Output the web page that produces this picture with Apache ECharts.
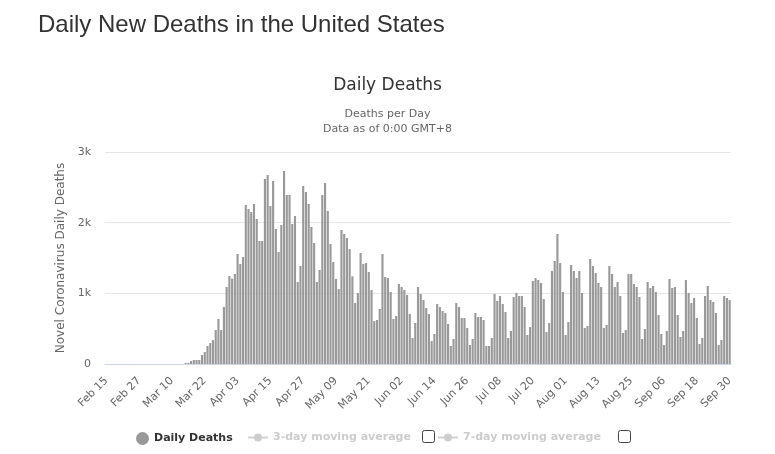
<!DOCTYPE html>
<html>
<head>
<meta charset="utf-8">
<script src="https://cdn.jsdelivr.net/npm/echarts@6/dist/echarts.min.js"></script>
<style>
  html, body { margin: 0; padding: 0; background: #fff; }
  #main { width: 775px; height: 454px; }
</style>
</head>
<body>
<div id="main"></div>
<script>
// first day on the axis and how many days are shown
const startDate = '2020-02-15';
const dayCount = 229;
const monthNames = ['Jan', 'Feb', 'Mar', 'Apr', 'May', 'Jun', 'Jul', 'Aug', 'Sep', 'Oct', 'Nov', 'Dec'];

// daily deaths, Feb 15 .. Sep 30 (the first weeks are too small to see)
const febDeaths = [0, 0, 0, 0, 0, 0, 0, 0, 0, 0, 0, 0, 0, 0, 0];
const marDeaths = [0, 0, 0, 0, 0, 0, 0, 0, 0, 0, 0, 0, 0, 0, 15, 15, 42, 57, 57, 57, 127, 170, 255, 297, 340, 481, 637, 481, 807, 1090, 1245];
const aprDeaths = [1208, 1274, 1557, 1415, 1514, 2250, 2193, 2151, 2264, 2052, 1741, 1741, 2618, 2675, 2236, 2590, 1910, 1585, 1967, 2731, 2392, 2392, 1981, 2094, 1160, 1387, 2519, 2434, 2264, 1939];
const mayDeaths = [1712, 1160, 1330, 2392, 2561, 2165, 1698, 1443, 1203, 1061, 1896, 1840, 1783, 1627, 1241, 863, 1005, 1571, 1415, 1429, 1302, 1047, 608, 623, 778, 1557, 1231, 1217, 1019, 637, 679];
const junDeaths = [1132, 1090, 1047, 976, 708, 368, 580, 1090, 991, 906, 792, 708, 325, 425, 849, 807, 750, 722, 566, 255, 354, 863, 807, 651, 651, 509, 269, 354, 722, 665];
const julDeaths = [665, 623, 255, 255, 368, 991, 892, 962, 849, 736, 368, 467, 948, 1005, 962, 962, 807, 410, 524, 1175, 1217, 1189, 1146, 920, 453, 580, 1316, 1458, 1840, 1429, 1019];
const augDeaths = [410, 594, 1401, 1316, 1217, 1316, 1005, 509, 538, 1486, 1387, 1288, 1146, 1090, 509, 552, 1387, 1274, 1090, 1160, 962, 439, 481, 1274, 1274, 1132, 1090, 948, 354, 495, 1160];
const sepDeaths = [1075, 1104, 1019, 693, 425, 269, 467, 1203, 1075, 1090, 693, 382, 467, 1189, 1005, 863, 934, 651, 283, 368, 962, 1104, 906, 877, 722, 269, 340, 962, 934, 906];

const dailyDeaths = [].concat(febDeaths, marDeaths, aprDeaths, mayDeaths, junDeaths, julDeaths, augDeaths, sepDeaths);

const yTicks = [0, 1000, 2000, 3000];
const yTickLabels = ['0', '1k', '2k', '3k'];

// build "Feb 15" style labels for each day
const categories = [];
const d0 = new Date(startDate + 'T00:00:00Z');
for (let i = 0; i < dayCount; i++) {
  const d = new Date(d0.getTime() + i * 86400000);
  const day = d.getUTCDate();
  categories.push(monthNames[d.getUTCMonth()] + ' ' + (day < 10 ? '0' + day : day));
}

const chart = echarts.init(document.getElementById('main'));

const chartFont = 'DejaVu Sans';

chart.setOption({
  backgroundColor: '#fff',
  animation: false,
  title: [
    {
      text: 'Daily New Deaths in the United States',
      left: 33, top: 8,
      textStyle: { fontFamily: 'Liberation Sans', fontSize: 24, fontWeight: 'normal', color: '#333' }
    },
    {
      text: 'Daily Deaths',
      left: 'center', top: 72,
      textStyle: { fontFamily: chartFont, fontSize: 17, fontWeight: 'normal', color: '#333' }
    },
    {
      text: 'Deaths per Day',
      left: 'center', top: 104,
      textStyle: { fontFamily: chartFont, fontSize: 11, fontWeight: 'normal', color: '#666' }
    },
    {
      text: 'Data as of 0:00 GMT+8',
      left: 'center', top: 119,
      textStyle: { fontFamily: chartFont, fontSize: 11, fontWeight: 'normal', color: '#666' }
    }
  ],
  legend: [
    {
      data: ['Daily Deaths'],
      left: 131, top: 427,
      icon: 'circle', itemWidth: 13, itemHeight: 13,
      textStyle: { fontFamily: chartFont, fontSize: 11, fontWeight: 'bold', color: '#333' }
    },
    {
      data: ['3-day moving average'],
      left: 242, top: 427,
      itemWidth: 20, itemHeight: 10, itemGap: 4, inactiveColor: '#ccc',
      textStyle: { fontFamily: chartFont, fontSize: 11, fontWeight: 'bold', color: '#333' }
    },
    {
      data: ['7-day moving average'],
      left: 432, top: 427,
      itemWidth: 20, itemHeight: 10, inactiveColor: '#ccc',
      textStyle: { fontFamily: chartFont, fontSize: 11, fontWeight: 'bold', color: '#333' }
    }
  ],
  grid: { left: 105, right: 44, top: 152, bottom: 90 },
  xAxis: {
    type: 'category',
    data: categories,
    axisLine: { lineStyle: { color: '#ccd6eb' } },
    axisTick: { show: false },
    axisLabel: {
      interval: 11, rotate: 45, margin: 15,
      fontFamily: chartFont, fontSize: 11, color: '#666'
    }
  },
  yAxis: {
    type: 'value',
    min: 0, max: 3000, interval: 1000,
    name: 'Novel Coronavirus Daily Deaths',
    nameLocation: 'middle', nameGap: 38,
    nameTextStyle: { fontFamily: chartFont, fontSize: 12, color: '#666' },
    axisLabel: {
      margin: 14, fontFamily: chartFont, fontSize: 11, color: '#666',
      formatter: v => yTickLabels[yTicks.indexOf(v)]
    },
    splitLine: { lineStyle: { color: '#e6e6e6' } }
  },
  series: [
    {
      name: 'Daily Deaths',
      type: 'bar',
      data: dailyDeaths,
      barCategoryGap: '22%',
      itemStyle: { color: '#999' }
    },
    { name: '3-day moving average', type: 'line', symbol: 'circle', data: [], itemStyle: { color: '#ccc' } },
    { name: '7-day moving average', type: 'line', symbol: 'circle', data: [], itemStyle: { color: '#ccc' } }
  ],
  graphic: [
    { type: 'rect', left: 422, top: 430, shape: { width: 12, height: 12, r: 2 }, style: { fill: '#fff', stroke: '#444', lineWidth: 1 } },
    { type: 'rect', left: 618, top: 430, shape: { width: 12, height: 12, r: 2 }, style: { fill: '#fff', stroke: '#444', lineWidth: 1 } }
  ]
});

// moving averages start switched off, as in the original
chart.dispatchAction({ type: 'legendUnSelect', name: '3-day moving average' });
chart.dispatchAction({ type: 'legendUnSelect', name: '7-day moving average' });
</script>
</body>
</html>
